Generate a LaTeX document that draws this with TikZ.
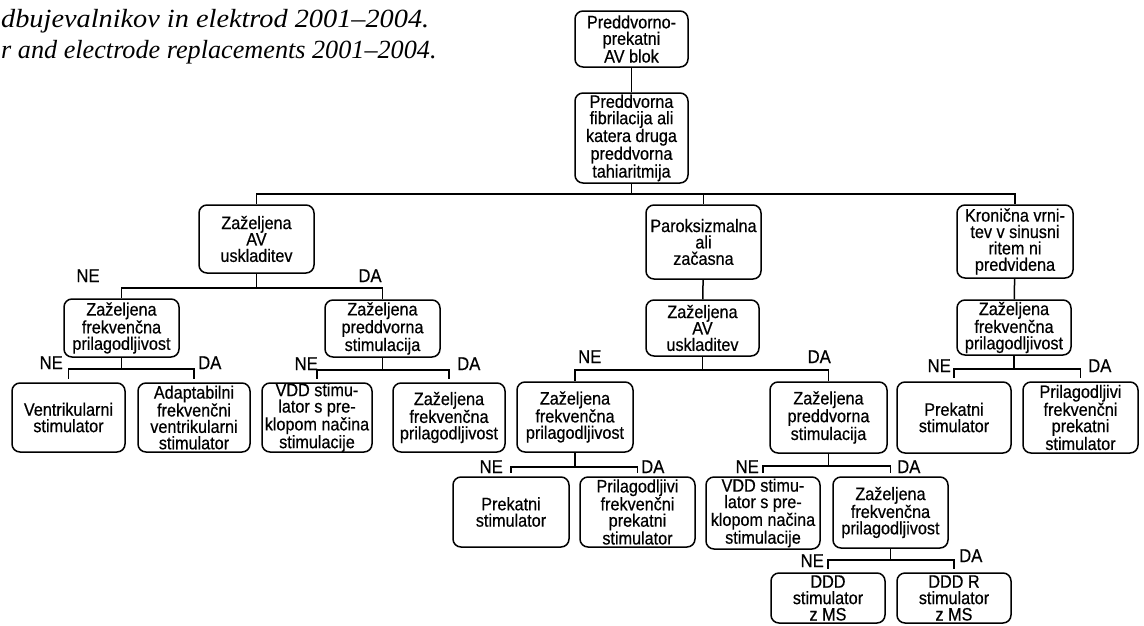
\documentclass[tikz,border=0pt]{standalone}
\usepackage{fontspec}
\setmainfont{Liberation Sans}[FakeStretch=0.9,FakeBold=0.5]
\newfontfamily\capfont{Liberation Serif}
\newfontfamily\capfontwide{Liberation Serif}[FakeStretch=1.08]
\begin{document}
\begin{tikzpicture}[x=1pt,y=-1pt,
  box/.style={draw, line width=1.5pt, rounded corners=8pt, align=center, inner sep=0pt,
    font=\fontsize{18}{16.4}\selectfont},
  lab/.style={font=\fontsize{18.5}{18}\selectfont, inner sep=0pt},
  con/.style={line width=1.5pt},
  gap/.style={con, shorten >=3pt},
  captexta/.style={font=\capfontwide\itshape\fontsize{26.2}{26}\selectfont, inner sep=0pt, anchor=base west},
  captextb/.style={font=\capfont\itshape\fontsize{26.2}{26}\selectfont, inner sep=0pt, anchor=base west}]
\useasboundingbox (0,0) rectangle (1144,625);

% caption
\node[captexta] (cap1) at (1,27) {dbujevalnikov in elektrod 2001–2004.};
\node[captextb] (cap2) at (1,58) {r and electrode replacements 2001–2004.};

% boxes
\node[box, minimum width=113pt, minimum height=56pt] (b1) at (631.5,39) {Preddvorno-\\prekatni\\AV blok};
\node[box, minimum width=113pt, minimum height=90pt] (b2) at (631.5,138) {Preddvorna\\fibrilacija ali\\katera druga\\preddvorna\\tahiaritmija};
\node[box, minimum width=115pt, minimum height=68pt] (b3) at (256.5,239) {Zaželjena\\AV\\uskladitev};
\node[box, minimum width=115pt, minimum height=74pt] (b9) at (703.5,242) {Paroksizmalna\\ali\\začasna};
\node[box, minimum width=116pt, minimum height=73pt] (b19) at (1015,241.5) {Kronična vrni-\\tev v sinusni\\ritem ni\\predvidena};

\node[box, minimum width=115pt, minimum height=58pt] (b4) at (121.5,328) {Zaželjena\\frekvenčna\\prilagodljivost};
\node[box, minimum width=115pt, minimum height=57pt] (b7) at (382.5,328.5) {Zaželjena\\preddvorna\\stimulacija};
\node[box, minimum width=113pt, minimum height=56pt] (b10) at (702.5,328) {Zaželjena\\AV\\uskladitev};
\node[box, minimum width=114pt, minimum height=55pt] (b20) at (1014,327.5) {Zaželjena\\frekvenčna\\prilagodljivost};

\node[box, minimum width=113pt, minimum height=69pt] (b5) at (68.5,417.5) {Ventrikularni\\stimulator};
\node[box, minimum width=112pt, minimum height=69pt] (b6) at (194,417.5) {Adaptabilni\\frekvenčni\\ventrikularni\\stimulator};
\node[box, minimum width=110pt, minimum height=69pt] (b7a) at (317,417.5) {VDD stimu-\\lator s pre-\\klopom načina\\stimulacije};
\node[box, minimum width=112pt, minimum height=69pt] (b8) at (449,417.5) {Zaželjena\\frekvenčna\\prilagodljivost};
\node[box, minimum width=116pt, minimum height=70pt] (b11) at (575,417) {Zaželjena\\frekvenčna\\prilagodljivost};
\node[box, minimum width=117pt, minimum height=71pt] (b14) at (828.5,417.5) {Zaželjena\\preddvorna\\stimulacija};
\node[box, minimum width=114pt, minimum height=71pt] (b21) at (954,417.5) {Prekatni\\stimulator};
\node[box, minimum width=115pt, minimum height=71pt] (b22) at (1080.5,417.5) {Prilagodljivi\\frekvenčni\\prekatni\\stimulator};

\node[box, minimum width=116pt, minimum height=70pt] (b12) at (511,512) {Prekatni\\stimulator};
\node[box, minimum width=115pt, minimum height=70pt] (b13) at (637.5,512) {Prilagodljivi\\frekvenčni\\prekatni\\stimulator};
\node[box, minimum width=114pt, minimum height=72pt] (b15) at (763,513) {VDD stimu-\\lator s pre-\\klopom načina\\stimulacije};
\node[box, minimum width=115pt, minimum height=71pt] (b16) at (890.5,512.5) {Zaželjena\\frekvenčna\\prilagodljivost};

\node[box, minimum width=114pt, minimum height=50pt] (b17) at (828,598) {DDD\\stimulator\\z MS};
\node[box, minimum width=114pt, minimum height=50pt] (b18) at (954,598) {DDD R\\stimulator\\z MS};

% connectors
\draw[con] (b1) -- (b2);
\draw[con] (b2.south) -- ++(0,10) coordinate (t2);
\draw[con] (t2) -| (b3.north);
\draw[con] (t2) -| (b9.north);
\draw[con] (t2) -| (b19.north);
\draw[con] (b9) -- (b10);
\draw[con] (b19) -- (b20);

\draw[con] (b3.south) -- ++(0,14) coordinate (t3);
\draw[con] (t3) -| (b4.north);
\draw[con] (t3) -| (b7.north);

\draw[con] (b4.south) -- ++(0,11) coordinate (t4);
\draw[gap] (t4) -| (b5.north);
\draw[gap] (t4) -| (b6.north);

\draw[con] (b7.south) -- ++(0,12) coordinate (t7);
\draw[gap] (t7) -| (b7a.north);
\draw[gap] (t7) -| (b8.north);

\draw[con] (b10.south) -- ++(0,13) coordinate (t10);
\draw[con] (t10) -| (b11.north);
\draw[con] (t10) -| (b14.north);

\draw[con] (b11.south) -- ++(0,14) coordinate (t11);
\draw[gap] (t11) -| (b12.north);
\draw[gap] (t11) -| (b13.north);

\draw[con] (b14.south) -- ++(0,12) coordinate (t14);
\draw[gap] (t14) -| (b15.north);
\draw[gap] (t14) -| (b16.north);

\draw[con] (b16.south) -- ++(0,11) coordinate (t16);
\draw[gap] (t16) -| (b17.north);
\draw[gap] (t16) -| (b18.north);

\draw[con] (b20.south) -- ++(0,13) coordinate (t20);
\draw[gap] (t20) -| (b21.north);
\draw[gap] (t20) -| (b22.north);

% labels
\node[lab, anchor=base] (l3n) at (88,282) {NE};
\node[lab, anchor=base] (l3d) at (370,282) {DA};
\node[lab, anchor=base east] (l4n) at (63,369) {NE};
\node[lab, anchor=base west] (l4d) at (198,369) {DA};
\node[lab, anchor=base east] (l7n) at (318,370) {NE};
\node[lab, anchor=base west] (l7d) at (457,370) {DA};
\node[lab, anchor=base west] (l10n) at (578,363) {NE};
\node[lab, anchor=base east] (l10d) at (831,363) {DA};
\node[lab, anchor=base east] (l11n) at (503,473) {NE};
\node[lab, anchor=base west] (l11d) at (641,473) {DA};
\node[lab, anchor=base east] (l14n) at (759,473) {NE};
\node[lab, anchor=base west] (l14d) at (897,473) {DA};
\node[lab, anchor=base east] (l16n) at (824,567) {NE};
\node[lab, anchor=base west] (l16d) at (959,562) {DA};
\node[lab, anchor=base east] (l20n) at (951,372) {NE};
\node[lab, anchor=base west] (l20d) at (1088,372) {DA};
\end{tikzpicture}
\end{document}
